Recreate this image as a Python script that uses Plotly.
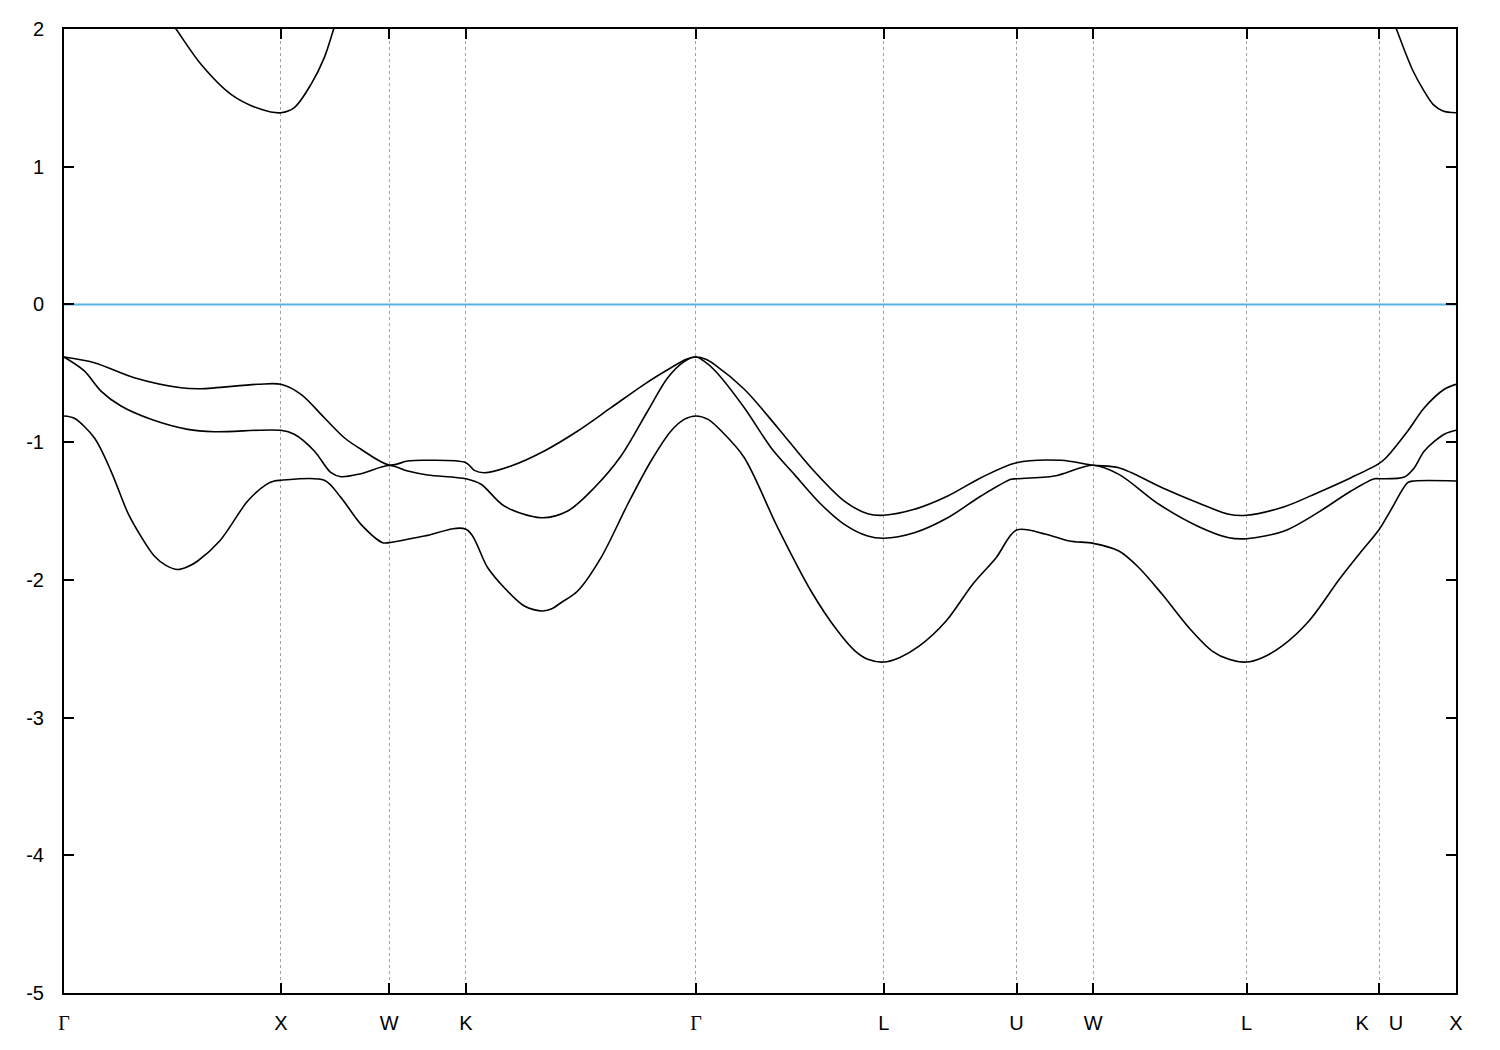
import plotly.graph_objects as go

# High-symmetry points (path coordinate, label)
tick_pos = [0.0, 1.0, 1.5, 1.8536, 2.9142, 3.7802, 4.3926, 4.7462, 5.4533, 6.0657, 6.4193]
tick_lab = ["Γ", "X", "W", "K", "Γ", "L", "U", "W", "L", "K\u2003U", "X"]

# Band 1 (lowest valence band)
k_b1 = [0.0, 0.0475, 0.1397, 0.2167, 0.2938, 0.3399, 0.4164, 0.4700, 0.5243, 0.5700, 0.6166, 0.7178, 0.8472, 0.9300, 0.9698, 1.0,
        1.2004, 1.2774, 1.3696, 1.4697, 1.5, 1.6616, 1.8536,
        1.954, 2.0305, 2.1228, 2.1700, 2.2076, 2.2500, 2.292, 2.369, 2.4765, 2.5996, 2.707, 2.7993, 2.8600, 2.9142,
        2.9700, 3.0350, 3.1373, 3.2913, 3.4449, 3.568, 3.6500, 3.7064, 3.7802,
        3.8526, 3.9448, 4.068, 4.1906, 4.2986, 4.3926,
        4.5282, 4.6356, 4.7462,
        4.8647, 4.957, 5.0644, 5.1875, 5.295, 5.372, 5.4533,
        5.5257, 5.6179, 5.7411, 5.8813, 5.9717, 6.0657,
        6.1200, 6.1968, 6.2272, 6.4193]
e_b1 = [-0.81, -0.827, -0.968, -1.21, -1.512, -1.645, -1.827, -1.895, -1.925, -1.905, -1.863, -1.718, -1.428, -1.31, -1.282, -1.277,
        -1.277, -1.403, -1.597, -1.73, -1.73, -1.682, -1.633,
        -1.912, -2.057, -2.19, -2.218, -2.226, -2.21, -2.166, -2.081, -1.839, -1.451, -1.137, -0.919, -0.835, -0.81,
        -0.835, -0.925, -1.113, -1.621, -2.081, -2.372, -2.52, -2.577, -2.597,
        -2.565, -2.48, -2.299, -2.032, -1.839, -1.638,
        -1.669, -1.718, -1.735,
        -1.791, -1.912, -2.105, -2.347, -2.517, -2.577, -2.597,
        -2.565, -2.48, -2.299, -1.996, -1.815, -1.633,
        -1.49, -1.294, -1.282, -1.282]

# Band 2 (middle valence band)
k_b2 = [0.0, 0.0936, 0.1706, 0.2629, 0.4012, 0.5705, 0.6931, 1.0, 1.0621, 1.1543, 1.2313, 1.2774, 1.3696, 1.5,
        1.5851, 1.6773, 1.8536,
        1.9231, 2.0305, 2.1998, 2.3229, 2.4456, 2.5687, 2.6918, 2.7841, 2.8600, 2.9142,
        2.9500, 3.0035, 3.1373, 3.2605, 3.3679, 3.491, 3.5985, 3.7064, 3.7802,
        3.9213, 4.0753, 4.2289, 4.3673, 4.3926,
        4.567, 4.7462,
        4.8647, 5.0492, 5.2284, 5.372, 5.4533,
        5.6277, 5.7816, 5.9352, 6.0427, 6.0657,
        6.1811, 6.2272, 6.2733, 6.3655, 6.4193]
e_b2 = [-0.382, -0.483, -0.629, -0.738, -0.834, -0.907, -0.924, -0.914, -0.943, -1.064, -1.222, -1.251, -1.229, -1.17,
        -1.21, -1.239, -1.266,
        -1.306, -1.464, -1.549, -1.5, -1.331, -1.101, -0.774, -0.532, -0.415, -0.382,
        -0.41, -0.483, -0.75, -1.04, -1.234, -1.451, -1.597, -1.682, -1.698,
        -1.658, -1.549, -1.391, -1.27, -1.266,
        -1.246, -1.168,
        -1.234, -1.451, -1.61, -1.694, -1.701,
        -1.645, -1.512, -1.355, -1.266, -1.266,
        -1.253, -1.186, -1.064, -0.943, -0.914]

# Band 3 (top valence band)
k_b3 = [0.0, 0.1397, 0.3242, 0.5396, 0.6318, 0.8933, 1.0, 1.093, 1.2004, 1.2927, 1.3696, 1.5,
        1.5851, 1.6616, 1.8536,
        1.8922, 1.9383, 2.0614, 2.215, 2.369, 2.5226, 2.6762, 2.7993, 2.8700, 2.9142,
        2.9600, 2.999, 3.1373, 3.2913, 3.4449, 3.5985, 3.7064, 3.7802,
        3.9213, 4.0753, 4.2289, 4.3926,
        4.5978, 4.7462,
        4.8647, 5.0644, 5.2284, 5.372, 5.4533,
        5.6277, 5.7816, 5.9352, 6.0657,
        6.0967, 6.1968, 6.2733, 6.3655, 6.4193]
e_b3 = [-0.382, -0.423, -0.532, -0.605, -0.612, -0.58, -0.58, -0.653, -0.823, -0.968, -1.052, -1.166,
        -1.137, -1.132, -1.149,
        -1.205, -1.222, -1.173, -1.064, -0.919, -0.75, -0.58, -0.46, -0.398, -0.382,
        -0.398, -0.435, -0.616, -0.895, -1.186, -1.428, -1.52, -1.531,
        -1.488, -1.391, -1.258, -1.149,
        -1.132, -1.168,
        -1.186, -1.331, -1.44, -1.524, -1.531,
        -1.469, -1.367, -1.258, -1.154,
        -1.113, -0.919, -0.75, -0.616, -0.58]

# Conduction band (visible parts, clipped at top of range)
k_cb = [0.4473, 0.5165, 0.6318, 0.7702, 0.9085, 1.0, 1.0621, 1.1391, 1.2004, 1.2438, 1.2774,
        None,
        6.106, 6.1443, 6.183, 6.2213, 6.2674, 6.3135, 6.3596, 6.4193]
e_cb = [2.15, 2.0, 1.744, 1.526, 1.417, 1.392, 1.429, 1.598, 1.792, 2.0, 2.16,
        None,
        2.15, 2.0, 1.84, 1.695, 1.562, 1.453, 1.405, 1.392]

# Fermi level
k_ef = [0.0, 6.4193]
e_ef = [0.0, 0.0]

fig = go.Figure()
for kk, ee in [(k_b1, e_b1), (k_b2, e_b2), (k_b3, e_b3), (k_cb, e_cb)]:
    fig.add_trace(go.Scatter(x=kk, y=ee, mode="lines",
                             line=dict(color="black", width=1.6, shape="spline", smoothing=0.9),
                             showlegend=False, hoverinfo="skip", connectgaps=False))
fig.add_trace(go.Scatter(x=k_ef, y=e_ef, mode="lines",
                         line=dict(color="#56b4e9", width=2), showlegend=False, hoverinfo="skip"))

serif = '<span style="font-family:\'Liberation Serif\', \'DejaVu Serif\', serif">Γ</span>'
labels = [serif if t == "Γ" else t for t in tick_lab]

tf = dict(family="Liberation Sans, Arial, sans-serif", size=20, color="black")

fig.update_layout(
    width=1500, height=1050,
    margin=dict(l=56, r=52, t=21, b=65, autoexpand=False),
    paper_bgcolor="white", plot_bgcolor="white",
    font=dict(family="Liberation Sans, Arial, sans-serif", size=20, color="black"),
    showlegend=False,
)
fig.update_xaxes(
    range=[0, 6.4193], tickmode="array", tickvals=tick_pos, ticktext=labels,
    ticks="inside", ticklen=10, tickwidth=2, tickcolor="black", tickfont=tf,
    showline=True, linecolor="black", linewidth=2, mirror="ticks",
    showgrid=True, gridcolor="#a0a0a0", gridwidth=1, griddash="3px,3px",
    zeroline=False, ticklabelstandoff=11, automargin=False,
)
fig.update_yaxes(
    range=[-5, 2], tickmode="array", tickvals=[-5, -4, -3, -2, -1, 0, 1, 2],
    ticktext=["-5", "-4", "-3", "-2", "-1", "0", "1", "2"],
    ticks="inside", ticklen=10, tickwidth=2, tickcolor="black", tickfont=tf,
    showline=True, linecolor="black", linewidth=2, mirror="ticks",
    showgrid=False, zeroline=False, ticklabelstandoff=14, automargin=False,
)

fig.write_html("out.html")
